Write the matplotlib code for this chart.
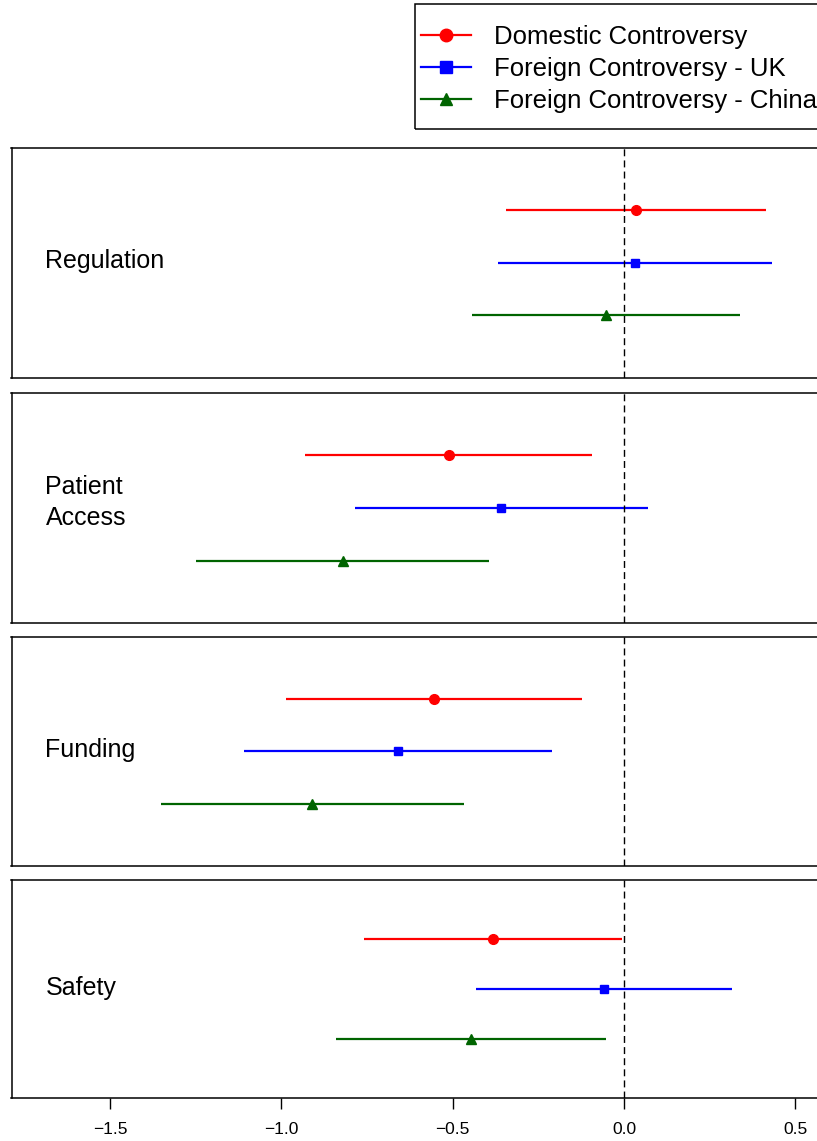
import matplotlib
matplotlib.use("Agg")
from matplotlib import pyplot as plt
from matplotlib.lines import Line2D
from matplotlib.patches import Rectangle

plt.rcParams["font.family"] = ["Liberation Sans", "DejaVu Sans"]

# panels, top to bottom
categories = ["Regulation", "Patient\nAccess", "Funding", "Safety"]
series = ["Domestic Controversy", "Foreign Controversy - UK", "Foreign Controversy - China"]

est_domestic = [0.034, -0.512, -0.554, -0.383]
lo_domestic = [-0.345, -0.930, -0.985, -0.760]
hi_domestic = [0.413, -0.093, -0.123, -0.006]

est_uk = [0.032, -0.360, -0.660, -0.059]
lo_uk = [-0.369, -0.784, -1.108, -0.431]
hi_uk = [0.433, 0.069, -0.209, 0.314]

est_china = [-0.053, -0.821, -0.910, -0.446]
lo_china = [-0.444, -1.249, -1.351, -0.840]
hi_china = [0.338, -0.393, -0.466, -0.053]

x_ticks = [-1.5, -1.0, -0.5, 0.0, 0.5]
x_ticklabels = ["\u22121.5", "\u22121.0", "\u22120.5", "0.0", "0.5"]

colors = ["#FF0000", "#0000FF", "#006400"]
markers = ["o", "s", "^"]
msizes = [7, 6, 7]

W, H = 817, 1141
fig = plt.figure(figsize=(W / 100, H / 100), dpi=100)

# panel edges in pixels (top, bottom)
panel_px = [(147.5, 377.5), (393, 623), (637, 866), (880, 1097.5)]
left_px, right_px = 11.5, 821

est = [est_domestic, est_uk, est_china]
lo = [lo_domestic, lo_uk, lo_china]
hi = [hi_domestic, hi_uk, hi_china]

for p, (top, bot) in enumerate(panel_px):
    ax = fig.add_axes([left_px / W, 1 - bot / H, (right_px - left_px) / W, (bot - top) / H])
    for s in range(3):
        y = s + 1
        ax.hlines(y, lo[s][p], hi[s][p], color=colors[s], lw=1.6)
        ax.plot(est[s][p], y, marker=markers[s], color=colors[s], ms=msizes[s], ls="none")
    ax.axvline(0, color="black", lw=1.0, dashes=(5, 3))
    ax.set_xlim(-1.7873, 0.5749)
    ax.set_ylim(4.17, -0.17)
    ax.set_yticks([])
    for sp in ax.spines.values():
        sp.set_linewidth(1.1)
    ypos = 0.525 if "\n" in categories[p] else 0.505
    ax.text(0.042, ypos, categories[p], transform=ax.transAxes, va="center", ha="left",
            fontsize=18, linespacing=1.38)
    if p == len(panel_px) - 1:
        ax.set_xticks(x_ticks)
        ax.set_xticklabels(x_ticklabels, fontsize=12.5)
        ax.tick_params(axis="x", direction="out", length=8, width=1, pad=10)
    else:
        ax.set_xticks([])

# legend with a square frame that runs off the right edge
fig.add_artist(Rectangle((415 / W, 1 - 128.5 / H), 430 / W, 124.5 / H, transform=fig.transFigure,
                         fill=False, ec="black", lw=1.1))
handles = [Line2D([], [], color=colors[s], marker=markers[s], ms=msizes[s] + 2, lw=1.6)
           for s in range(3)]
fig.legend(handles, series, loc="center left", bbox_to_anchor=(421 / W, 1 - 69 / H),
           frameon=False, borderpad=0, borderaxespad=0, handlelength=1.95, handletextpad=0.9,
           labelspacing=0.3, fontsize=18.5, numpoints=1)

fig.savefig("out.png", dpi=100)
